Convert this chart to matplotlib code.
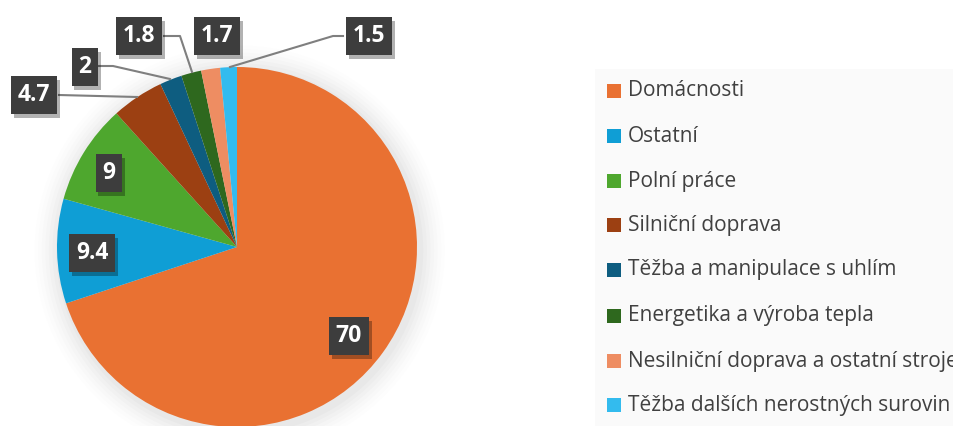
import matplotlib
matplotlib.use("Agg")
import matplotlib.pyplot as plt
from matplotlib.patches import Circle, Rectangle
import matplotlib.patheffects as pe

categories = ["Domácnosti", "Ostatní", "Polní práce", "Silniční doprava",
              "Těžba a manipulace s uhlím", "Energetika a výroba tepla",
              "Nesilniční doprava a ostatní stroje", "Těžba dalších nerostných surovin"]
values = [70, 9.4, 9, 4.7, 2, 1.8, 1.7, 1.5]
value_labels = ["70", "9.4", "9", "4.7", "2", "1.8", "1.7", "1.5"]
colors = ["#E97132", "#0F9ED5", "#4EA72E", "#9C4012", "#0E5D80", "#2E681E", "#EE8D62", "#33BBEE"]

plt.rcParams['font.family'] = ['Open Sans', 'DejaVu Sans']

W, H = 954, 426
fig = plt.figure(figsize=(W / 100, H / 100), dpi=100)
fig.patch.set_facecolor("white")

# pie axes: center (237,247) px, radius 180 px
cx, cy, R = 237, 247, 180
ax = fig.add_axes([(cx - R) / W, (H - cy - R) / H, 2 * R / W, 2 * R / H])
ax.set_xlim(-1, 1)
ax.set_ylim(-1, 1)
ax.set_aspect("equal")
ax.axis("off")

# soft shadow
for i, a in enumerate([0.035, 0.03, 0.03, 0.025, 0.02, 0.015, 0.01]):
    ax.add_patch(Circle((0.015, -0.02), 1.0 + 0.02 * (i + 1), color="#808080",
                        alpha=a, lw=0, zorder=0, clip_on=False))

wedges, _ = ax.pie(values, colors=colors, startangle=90, counterclock=False,
                   radius=1.0, wedgeprops=dict(linewidth=0), frame=False)
for w in wedges:
    w.set_zorder(2)
ax.set_xlim(-1, 1)
ax.set_ylim(-1, 1)

def px(x, y):
    return ((x - cx) / R, (cy - y) / R)

# label box positions in pixel coords (center)
label_pos = [(349, 336), (92, 253), (109, 173), (34, 95), (85, 67), (139, 36), (217, 36), (369, 36)]

# leader lines (pixel coords)
leaders = {
    3: [(59, 95), (137, 97)],
    4: [(99, 66), (113, 66), (170, 79)],
    5: [(164, 36), (180, 36), (192, 72)],
    7: [(343, 36), (333, 36), (230, 67)],
}
for k, pts in leaders.items():
    xs, ys = zip(*[px(*p) for p in pts])
    ax.plot(xs, ys, color="#7f7f7f", lw=1.5, zorder=3, clip_on=False)

for lab, (lx, ly) in zip(value_labels, label_pos):
    x, y = px(lx, ly)
    t = ax.text(x, y, lab, ha="center", va="center", fontsize=16.5, fontweight="bold",
                color="white", zorder=5, clip_on=False,
                bbox=dict(boxstyle="square,pad=0.3", fc="#3d3d3d", ec="none"))
    t.get_bbox_patch().set_path_effects([
        pe.SimplePatchShadow(offset=(2, -3), shadow_rgbFace="black", alpha=0.3),
        pe.Normal()])

# legend (manual)
fig.patches.append(Rectangle((595 / W, 0), 1 - 595 / W, (H - 69) / H,
                             transform=fig.transFigure, fc="#fafafa", ec="none", zorder=0))
ys = [91, 136, 181, 225, 270, 316, 361, 405]
for c, lab, yy in zip(colors, categories, ys):
    fig.patches.append(Rectangle((607 / W, (H - yy - 7) / H), 14 / W, 14 / H,
                                 transform=fig.transFigure, fc=c, ec="none", zorder=1))
    fig.text(628 / W, (H - yy) / H, lab, ha="left", va="center", fontsize=15,
             color="#404040")

fig.savefig("out.png", dpi=100)
